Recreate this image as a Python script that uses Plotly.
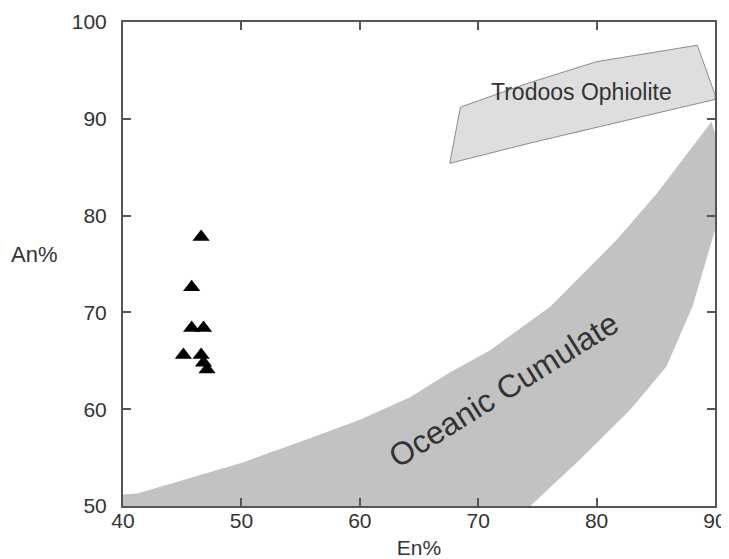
import plotly.graph_objects as go

# Sample points (En%, An%)
pts_en = [46.6, 45.8, 45.8, 46.8, 45.1, 46.6, 46.8, 47.1]
pts_an = [77.8, 72.6, 68.4, 68.4, 65.6, 65.6, 64.8, 64.1]

# Trodoos Ophiolite field
tro_en = [67.6, 68.5, 74.0, 80.0, 88.5, 90.0, 90.0, 74.4, 67.6]
tro_an = [85.4, 91.2, 93.6, 95.9, 97.6, 92.5, 92.0, 87.5, 85.4]

# Oceanic Cumulate field
oc_en = [40.0, 41.2, 44.6, 50.1, 55.8, 60.0, 64.2, 67.6, 71.0, 76.1, 81.7, 85.1, 89.7,
         90.0, 90.0, 88.1, 85.9, 82.8, 78.6, 74.4, 40.0]
oc_an = [51.2, 51.3, 52.5, 54.5, 57.0, 58.9, 61.2, 63.8, 66.1, 70.6, 77.5, 82.3, 89.7,
         88.5, 78.5, 70.6, 64.4, 59.9, 54.8, 50.0, 50.0]

x_ticks = [40, 50, 60, 70, 80, 90]
y_ticks = [50, 60, 70, 80, 90, 100]

FONT = "Liberation Sans, Arial"
TXT = "#333333"

fig = go.Figure()
fig.add_trace(go.Scatter(x=oc_en, y=oc_an, mode="lines", fill="toself",
                         fillcolor="#c2c2c2", line=dict(width=0, color="#c2c2c2"),
                         hoverinfo="skip", showlegend=False))
fig.add_trace(go.Scatter(x=tro_en, y=tro_an, mode="lines", fill="toself",
                         fillcolor="#dedede", line=dict(width=1, color="#8a8a8a"),
                         hoverinfo="skip", showlegend=False))
fig.add_trace(go.Scatter(x=pts_en, y=pts_an, mode="markers",
                         marker=dict(symbol="triangle-up", size=15, color="black"),
                         showlegend=False))

fig.add_annotation(x=78.7, y=92.8, text="Trodoos Ophiolite", showarrow=False,
                   font=dict(family=FONT, size=23, color=TXT))
fig.add_annotation(x=72.1, y=62.0, text="Oceanic Cumulate", showarrow=False, textangle=-32,
                   font=dict(family=FONT, size=32, color=TXT))

axis_common = dict(showgrid=False, zeroline=False, showline=True, linecolor="#555555",
                   linewidth=2, mirror="ticks", ticks="inside", ticklen=8, tickwidth=2,
                   tickcolor="#555555", automargin=False,
                   tickfont=dict(family=FONT, size=21, color=TXT))

fig.update_xaxes(range=[40, 90], tickvals=x_ticks, ticktext=[str(v) for v in x_ticks],
                 ticklabelstandoff=-5,
                 title=dict(text="En%", font=dict(family=FONT, size=21, color=TXT), standoff=13),
                 **axis_common)
fig.update_yaxes(range=[50, 100], tickvals=y_ticks, ticktext=[str(v) for v in y_ticks],
                 ticklabelstandoff=10, **axis_common)

fig.add_annotation(x=-0.150, y=0.519, xref="paper", yref="paper", text="An%", showarrow=False,
                   xanchor="center", yanchor="middle",
                   font=dict(family=FONT, size=22, color=TXT))

# page body has an 8px margin, so the figure is sized to fit the window
fig.update_layout(width=721, height=551, plot_bgcolor="white", paper_bgcolor="white",
                  margin=dict(l=115, r=14, t=14, b=53))

fig.write_html("out.html")
